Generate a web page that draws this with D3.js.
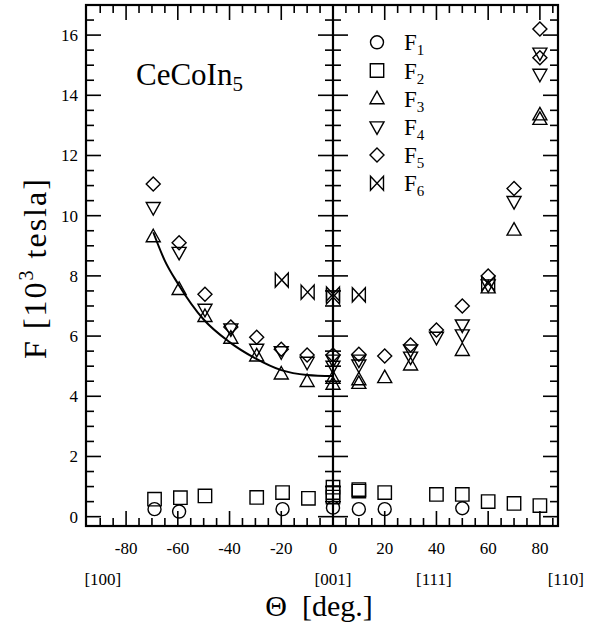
<!DOCTYPE html>
<html>
<head>
<meta charset="utf-8">
<script src="https://cdn.jsdelivr.net/npm/d3@7"></script>
<style>
  body { margin: 0; background: #fff; }
  svg text { font-family: "Liberation Serif", "DejaVu Serif", serif; fill: #000; }
</style>
</head>
<body>
<svg id="chart" width="608" height="633"></svg>
<script>
// angle (deg) and frequency (10^3 T) per branch
var f1Deg = [-69, -59.5, -19.5, 0, 10, 20, 50];
var f1Val = [0.25, 0.17, 0.25, 0.3, 0.25, 0.25, 0.28];

var f2Deg = [-69, -59, -49.5, -29.5, -19.5, -9.5, 0, 0, 0, 10, 10, 20, 40, 50, 60, 70, 80];
var f2Val = [0.58, 0.63, 0.69, 0.64, 0.8, 0.61, 0.65, 0.8, 0.98, 0.85, 0.9, 0.8, 0.74, 0.74, 0.5, 0.44, 0.37];

var f3Deg = [-69.5, -59.5, -49.5, -39.5, -29.5, -20, -10, 0, 0, 10, 10, 20, 30, 50, 60, 70, 80, 80];
var f3Val = [9.3, 7.55, 6.65, 5.93, 5.34, 4.74, 4.49, 4.4, 4.6, 4.43, 4.55, 4.62, 5.04, 5.52, 7.6, 9.52, 13.35, 13.2];

var f4Deg = [-69.5, -59.5, -49.5, -39.5, -29.5, -20, -10, 0, 0, 10, 10, 30, 30, 40, 50, 50, 60, 70, 80, 80];
var f4Val = [10.27, 8.78, 6.89, 6.24, 5.56, 5.48, 5.13, 5.0, 5.2, 5.04, 5.2, 5.54, 5.3, 5.96, 6.37, 6.04, 7.7, 10.47, 15.4, 14.7];

var f5Deg = [-69.5, -59.5, -49.5, -39.5, -29.5, -20, -10, 0, 10, 20, 30, 40, 50, 60, 70, 80, 80];
var f5Val = [11.05, 9.1, 7.39, 6.3, 5.96, 5.56, 5.37, 5.37, 5.4, 5.34, 5.7, 6.2, 7.0, 8.0, 10.9, 16.2, 15.25];

var f6Deg = [-19.8, -9.8, 0, 0, 10, 60];
var f6Val = [7.86, 7.46, 7.4, 7.3, 7.37, 7.75];

// solid guide line through the F3 branch
var curveDeg = [-69.5, -65, -60, -50, -40, -30, -20, -10, 0];
var curveVal = [9.45, 8.5, 7.75, 6.55, 5.8, 5.26, 4.87, 4.71, 4.67];

var xTicks = [-80, -60, -40, -20, 0, 20, 40, 60, 80];
var yTicks = [0, 2, 4, 6, 8, 10, 12, 14, 16];
var dirNames = ['[100]', '[001]', '[111]', '[110]'];
var dirDeg = [-89, 0, 39, 90];
var seriesNames = ['1', '2', '3', '4', '5', '6'];

(function() {
  var svg, x, y, g, left, right, top, bottom, shapes, series, i, minorX, minorY, line;

  left = 86; right = 558; top = 5; bottom = 526;
  svg = d3.select('#chart');

  x = d3.scaleLinear().domain([-95.5, 87]).range([left, right]);
  y = d3.scaleLinear().domain([-0.31, 17]).range([bottom, top]);

  minorX = d3.range(-90, 86, 5);
  minorY = d3.range(0, 17, 0.5);

  // marker outlines, centred on 0,0
  shapes = {
    circle: function(p) { p.moveTo(6.5, 0); p.arc(0, 0, 6.5, 0, 2 * Math.PI); },
    square: function(p) { p.rect(-6.7, -6.7, 13.4, 13.4); },
    up: function(p) { p.moveTo(0, -7.5); p.lineTo(7, 5); p.lineTo(-7, 5); p.closePath(); },
    down: function(p) { p.moveTo(0, 7.5); p.lineTo(7, -5); p.lineTo(-7, -5); p.closePath(); },
    diamond: function(p) { p.moveTo(0, -7); p.lineTo(7, 0); p.lineTo(0, 7); p.lineTo(-7, 0); p.closePath(); },
    bowtie: function(p) { p.moveTo(-6.5, -7); p.lineTo(6.5, 7); p.lineTo(6.5, -7); p.lineTo(-6.5, 7); p.closePath(); }
  };
  function shapePath(name) {
    var p = d3.path();
    shapes[name](p);
    return p.toString();
  }

  series = [
    { shape: 'circle', deg: f1Deg, val: f1Val },
    { shape: 'square', deg: f2Deg, val: f2Val },
    { shape: 'up', deg: f3Deg, val: f3Val },
    { shape: 'down', deg: f4Deg, val: f4Val },
    { shape: 'diamond', deg: f5Deg, val: f5Val },
    { shape: 'bowtie', deg: f6Deg, val: f6Val }
  ];

  // ticks: inward on the frame, both ways on the centre line
  function ticksX(yPos, dir) {
    g = svg.append('g').attr('stroke', '#000').attr('stroke-width', 1.6);
    g.selectAll('line.mi').data(minorX).enter().append('line')
      .attr('x1', function(d) { return x(d); }).attr('x2', function(d) { return x(d); })
      .attr('y1', yPos).attr('y2', function(d) { return yPos + dir * (d % 20 === 0 ? 15 : 8); });
  }
  function ticksY(xPos, dirs) {
    g = svg.append('g').attr('stroke', '#000').attr('stroke-width', 1.6);
    dirs.forEach(function(dir) {
      g.selectAll(null).data(minorY).enter().append('line')
        .attr('y1', function(d) { return y(d); }).attr('y2', function(d) { return y(d); })
        .attr('x1', xPos).attr('x2', function(d) { return xPos + dir * (d % 2 === 0 ? 15 : 8); });
    });
  }
  ticksX(bottom, -1);
  ticksX(top, 1);
  ticksY(left, [1]);
  ticksY(right, [-1]);
  ticksY(x(0), [-1, 1]);

  svg.append('rect').attr('x', left).attr('y', top)
    .attr('width', right - left).attr('height', bottom - top)
    .attr('fill', 'none').attr('stroke', '#000').attr('stroke-width', 2.2);
  svg.append('line').attr('x1', x(0)).attr('x2', x(0)).attr('y1', top).attr('y2', bottom)
    .attr('stroke', '#000').attr('stroke-width', 2.2);

  // tick labels
  svg.append('g').selectAll('text').data(xTicks).enter().append('text')
    .attr('x', function(d) { return x(d); }).attr('y', bottom + 28)
    .attr('text-anchor', 'middle').attr('font-size', 17)
    .text(function(d) { return d; });
  svg.append('g').selectAll('text').data(yTicks).enter().append('text')
    .attr('x', left - 8).attr('y', function(d) { return y(d) + 6; })
    .attr('text-anchor', 'end').attr('font-size', 17)
    .text(function(d) { return d; });

  svg.append('g').selectAll('text').data(dirNames).enter().append('text')
    .attr('x', function(d, j) { return x(dirDeg[j]); }).attr('y', bottom + 59)
    .attr('text-anchor', 'middle').attr('font-size', 17)
    .text(function(d) { return d; });

  // axis titles
  svg.append('text').attr('x', 319).attr('y', 616).attr('text-anchor', 'middle')
    .attr('font-size', 30).attr('xml:space', 'preserve').text('\u0398  [deg.]');
  var yl = svg.append('text').attr('transform', 'translate(46,268) rotate(-90)')
    .attr('text-anchor', 'middle').attr('font-size', 32).attr('letter-spacing', 2);
  yl.append('tspan').text('F [10');
  yl.append('tspan').attr('font-size', 20).attr('dy', -13).text('3');
  yl.append('tspan').attr('dy', 13).text(' tesla]');

  var cc = svg.append('text').attr('x', 136).attr('y', 85).attr('font-size', 31);
  cc.append('tspan').text('CeCoIn');
  cc.append('tspan').attr('font-size', 21).attr('dy', 6).text('5');

  // guide curve
  line = d3.line()
    .x(function(d, j) { return x(curveDeg[j]); })
    .y(function(d) { return y(d); })
    .curve(d3.curveMonotoneX);
  svg.append('path').attr('d', line(curveVal))
    .attr('fill', 'none').attr('stroke', '#000').attr('stroke-width', 2);

  // markers
  for (i = 0; i < series.length; i++) {
    (function(s) {
      svg.append('g').selectAll('path').data(s.val).enter().append('path')
        .attr('d', shapePath(s.shape))
        .attr('transform', function(d, j) { return 'translate(' + x(s.deg[j]) + ',' + y(d) + ')'; })
        .attr('fill', 'none').attr('stroke', '#000').attr('stroke-width', 1.4);
    })(series[i]);
  }

  // legend
  var lg = svg.append('g').selectAll('g').data(series).enter().append('g')
    .attr('transform', function(d, j) { return 'translate(377,' + (42.3 + j * 28.2) + ')'; });
  lg.append('path').attr('d', function(d) { return shapePath(d.shape); })
    .attr('fill', 'none').attr('stroke', '#000').attr('stroke-width', 1.4);
  var lt = lg.append('text').attr('x', 27).attr('y', 8).attr('font-size', 23);
  lt.append('tspan').text('F');
  lt.append('tspan').attr('font-size', 15).attr('dy', 5).text(function(d, j) { return seriesNames[j]; });
})();
</script>
</body>
</html>
